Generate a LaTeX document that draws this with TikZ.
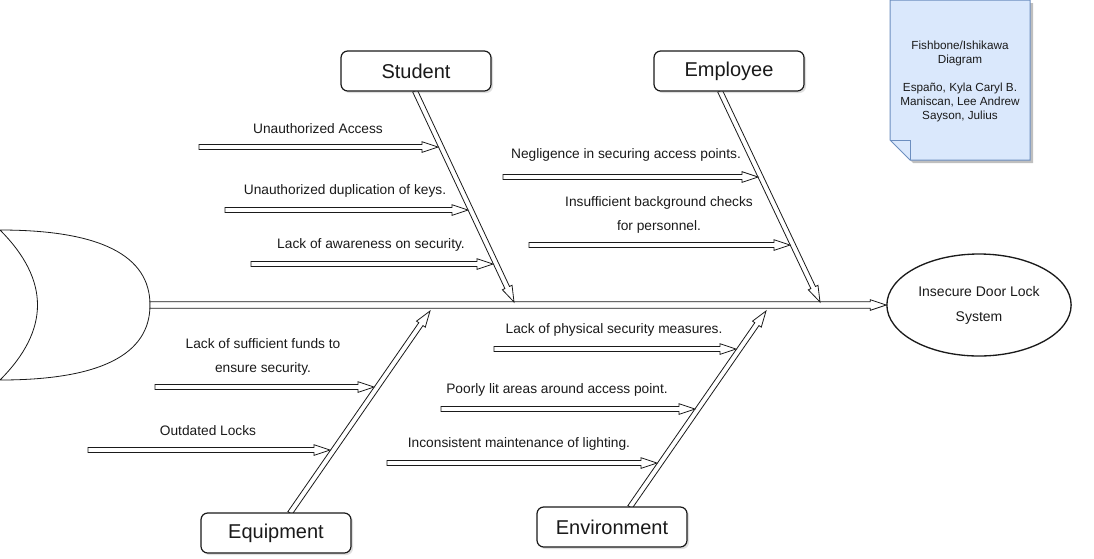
\documentclass[tikz,border=0pt]{standalone}
\usepackage{fontspec}
\setmainfont{Liberation Sans}
\usetikzlibrary{calc, shadows, shapes.geometric}
\definecolor{Ink}{HTML}{1A1A1A}
\definecolor{NoteFill}{HTML}{DAE8FC}
\definecolor{NoteLine}{HTML}{6C8EBF}

% hollow "flex" arrow from #2 to #3, shaft half width #1
\newcommand{\flexarrow}[3][1.9pt]{%
  \coordinate (fa-base) at ($(#3)!12pt!(#2)$);
  \draw[flex] ($(#2)!#1!90:(#3)$) -- ($(fa-base)!#1!-90:(#2)$)
    -- ($(fa-base)!4pt!-90:(#2)$) -- (#3)
    -- ($(fa-base)!4pt!90:(#2)$) -- ($(fa-base)!#1!90:(#2)$)
    -- ($(#2)!#1!-90:(#3)$) -- cycle;}

\begin{document}
\begin{tikzpicture}[
  x=0.75pt, y=-0.75pt,
  text=Ink,
  flex/.style={
    draw=Ink,
    line width=0.6pt,
    fill=white,
    line join=miter
  },
  cause/.style={
    draw=Ink,
    line width=0.9pt,
    rounded corners=5pt,
    fill=white,
    minimum width=112.5pt,
    minimum height=30pt,
    font=\fontsize{15}{18}\selectfont,
    drop shadow={shadow xshift=1.5pt, shadow yshift=-1.5pt, opacity=0.25}
  },
  reason/.style={
    align=center,
    inner sep=0pt,
    font=\fontsize{10.3}{18}\selectfont
  }
]

\useasboundingbox (0,0) rectangle (1094,558);

% fish tail
\coordinate (tail-tip) at (150,305);
\draw[Ink, line width=0.6pt, fill=white]
  (0,230) .. controls (100,230) and (150,255.3) .. (tail-tip)
  .. controls (150,354.7) and (100,380) .. (0,380)
  .. controls (50,330) and (50,280) .. cycle;

% head
\node[draw=Ink, line width=1pt, ellipse, minimum width=132pt, minimum height=76.5pt,
  align=center, font=\fontsize{10.5}{18.75}\selectfont] (effect) at (979,305)
  {Insecure Door Lock\\System};

% spine
\flexarrow[2.5pt]{tail-tip}{effect.west}

% main bones
\coordinate (stu-foot) at (415,91);
\coordinate (stu-tip) at (514,302);
\coordinate (emp-foot) at (720,91);
\coordinate (emp-tip) at (820,302);
\coordinate (equ-foot) at (290,513);
\coordinate (equ-tip) at (430,311);
\coordinate (env-foot) at (630,507);
\coordinate (env-tip) at (766,311);

\flexarrow{stu-foot}{stu-tip}
\flexarrow{emp-foot}{emp-tip}
\flexarrow{equ-foot}{equ-tip}
\flexarrow{env-foot}{env-tip}

% category boxes
\node[cause] (student) at (416,71) {Student};
\node[cause] (employee) at (729,71) {Employee};
\node[cause] (equipment) at (276,533) {Equipment};
\node[cause] (environment) at (612,527) {Environment};

% student causes
\coordinate (access-s) at (199,147);
\coordinate (access-e) at (438,147);
\flexarrow{access-s}{access-e}
\node[reason] (access) at (318,129) {Unauthorized Access};

\coordinate (keys-s) at (225,210);
\coordinate (keys-e) at (468,210);
\flexarrow{keys-s}{keys-e}
\node[reason] (keys) at (345,191) {Unauthorized duplication of keys.};

\coordinate (aware-s) at (251,264);
\coordinate (aware-e) at (493,264);
\flexarrow{aware-s}{aware-e}
\node[reason] (aware) at (371,245) {Lack of awareness on security.};

% employee causes
\coordinate (neglect-s) at (503,177);
\coordinate (neglect-e) at (758,177);
\flexarrow{neglect-s}{neglect-e}
\node[reason] (neglect) at (626,155) {Negligence in securing access points.};

\coordinate (checks-s) at (529,245);
\coordinate (checks-e) at (790,245);
\flexarrow{checks-s}{checks-e}
\node[reason] (checks) at (659,215) {Insufficient background checks\\for personnel.};

% equipment causes
\coordinate (funds-s) at (155,387);
\coordinate (funds-e) at (374,387);
\flexarrow{funds-s}{funds-e}
\node[reason] (funds) at (263,357) {Lack of sufficient funds to\\ensure security.};

\coordinate (locks-s) at (88,450);
\coordinate (locks-e) at (330,450);
\flexarrow{locks-s}{locks-e}
\node[reason] (locks) at (208,431) {Outdated Locks};

% environment causes
\coordinate (measures-s) at (494,349);
\coordinate (measures-e) at (736,349);
\flexarrow{measures-s}{measures-e}
\node[reason] (measures) at (614,330) {Lack of physical security measures.};

\coordinate (lit-s) at (441,409);
\coordinate (lit-e) at (695,409);
\flexarrow{lit-s}{lit-e}
\node[reason] (lit) at (557,390) {Poorly lit areas around access point.};

\coordinate (maint-s) at (387,463);
\coordinate (maint-e) at (657,463);
\flexarrow{maint-s}{maint-e}
\node[reason] (maint) at (519,444) {Inconsistent maintenance of lighting.};

% title note
\fill[black, opacity=0.25] (893,3) -- (1033,3) -- (1033,163) -- (913,163) -- (893,143) -- cycle;
\draw[NoteLine, line width=0.75pt, fill=NoteFill]
  (890,0) -- (1030,0) -- (1030,160) -- (910,160) -- (890,140) -- cycle;
\draw[NoteLine, line width=0.75pt] (890,140) -- (910,140) -- (910,160);
\node[align=center, font=\fontsize{8.8}{10.5}\selectfont] (title) at (960,81)
  {Fishbone/Ishikawa\\Diagram\\[10.5pt]Españo, Kyla Caryl B.\\Maniscan, Lee Andrew\\Sayson, Julius};

\end{tikzpicture}
\end{document}
